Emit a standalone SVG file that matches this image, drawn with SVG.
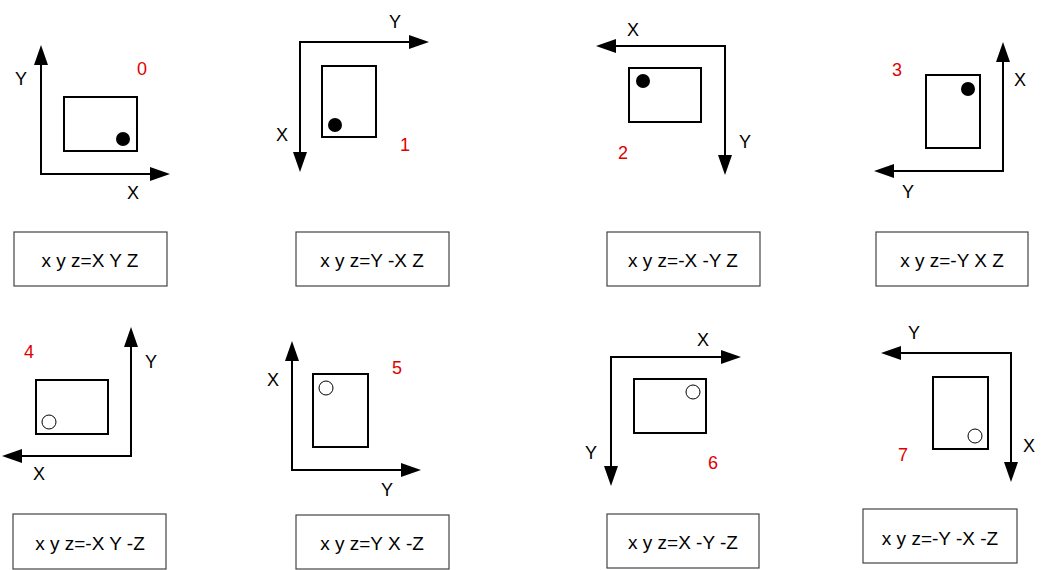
<svg xmlns="http://www.w3.org/2000/svg" width="1047" height="570" viewBox="0 0 1047 570">
<style>
  .ax { fill: none; stroke: #000; stroke-width: 2; marker-end: url(#arr); }
  .card { fill: #fff; stroke: #000; stroke-width: 2; }
  .dot { fill: #000; }
  .ring { fill: none; stroke: #000; stroke-width: 1; }
  .lbl { font-family: "Liberation Sans", Arial, sans-serif; font-size: 18px; fill: #000; text-anchor: middle; }
  .num { font-family: "Liberation Sans", Arial, sans-serif; font-size: 18px; fill: #e00000; text-anchor: middle; }
  .box { fill: #fff; stroke: #444; stroke-width: 1.2; }
  .eq { font-family: "Liberation Sans", Arial, sans-serif; font-size: 19px; fill: #000; text-anchor: middle; }
</style>
<defs>
  <marker id="arr" markerUnits="userSpaceOnUse" markerWidth="20" markerHeight="14" refX="2" refY="7" orient="auto">
    <path d="M0,0 L20,7 L0,14 z" fill="#000"/>
  </marker>
</defs>
<rect width="1047" height="570" fill="#fff"/>

<g id="connectors">
  <path class="ax" d="M41,174 L41,63"/>
  <path class="ax" d="M40,174 L152,174"/>
  <path class="ax" d="M300,42 L411,42"/>
  <path class="ax" d="M300,41 L300,154"/>
  <path class="ax" d="M725,46 L614,46"/>
  <path class="ax" d="M725,45 L725,157"/>
  <path class="ax" d="M1003,171 L1003,60"/>
  <path class="ax" d="M1004,171 L892,171"/>
  <path class="ax" d="M131,456 L131,345"/>
  <path class="ax" d="M132,456 L20,456"/>
  <path class="ax" d="M292,470 L292,359"/>
  <path class="ax" d="M291,470 L403,470"/>
  <path class="ax" d="M611,357 L723,357"/>
  <path class="ax" d="M611,356 L611,468"/>
  <path class="ax" d="M1011,353 L899,353"/>
  <path class="ax" d="M1011,352 L1011,464"/>
</g>

<g id="panel0">
  <rect class="card" x="64" y="97" width="73" height="54"/>
  <circle class="dot" cx="123" cy="139" r="7"/>
  <text class="lbl" x="21" y="85">Y</text>
  <text class="lbl" x="133" y="199">X</text>
  <text class="num" x="142" y="75">0</text>
</g>
<g id="panel1">
  <rect class="card" x="322" y="66" width="54" height="71"/>
  <circle class="dot" cx="335" cy="125" r="7"/>
  <text class="lbl" x="395" y="28">Y</text>
  <text class="lbl" x="282" y="141">X</text>
  <text class="num" x="405" y="151">1</text>
</g>
<g id="panel2">
  <rect class="card" x="629" y="68" width="72" height="54"/>
  <circle class="dot" cx="643" cy="81" r="7"/>
  <text class="lbl" x="633" y="36">X</text>
  <text class="lbl" x="745" y="148">Y</text>
  <text class="num" x="623" y="159">2</text>
</g>
<g id="panel3">
  <rect class="card" x="926" y="75" width="54" height="73"/>
  <circle class="dot" cx="968" cy="89" r="7"/>
  <text class="lbl" x="1020" y="86">X</text>
  <text class="lbl" x="908" y="198">Y</text>
  <text class="num" x="897" y="76">3</text>
</g>
<g id="panel4">
  <rect class="card" x="36" y="380" width="72" height="54"/>
  <circle class="ring" cx="49" cy="422" r="7"/>
  <text class="lbl" x="151" y="368">Y</text>
  <text class="lbl" x="39" y="480">X</text>
  <text class="num" x="29" y="358">4</text>
</g>
<g id="panel5">
  <rect class="card" x="313" y="374" width="55" height="73"/>
  <circle class="ring" cx="326" cy="388" r="7"/>
  <text class="lbl" x="273" y="386">X</text>
  <text class="lbl" x="387" y="496">Y</text>
  <text class="num" x="397" y="374">5</text>
</g>
<g id="panel6">
  <rect class="card" x="634" y="379" width="72" height="54"/>
  <circle class="ring" cx="693" cy="392" r="7"/>
  <text class="lbl" x="703" y="346">X</text>
  <text class="lbl" x="591" y="459">Y</text>
  <text class="num" x="713" y="469">6</text>
</g>
<g id="panel7">
  <rect class="card" x="933" y="377" width="55" height="72"/>
  <circle class="ring" cx="975" cy="436" r="7"/>
  <text class="lbl" x="914" y="339">Y</text>
  <text class="lbl" x="1029" y="452">X</text>
  <text class="num" x="903" y="461">7</text>
</g>

<g id="eq0"><rect class="box" x="14" y="232" width="153" height="54"/><text class="eq" x="90" y="267">x y z=X Y Z</text></g>
<g id="eq1"><rect class="box" x="296" y="232" width="153" height="54"/><text class="eq" x="372" y="267">x y z=Y -X Z</text></g>
<g id="eq2"><rect class="box" x="607" y="232" width="153" height="54"/><text class="eq" x="683" y="267">x y z=-X -Y Z</text></g>
<g id="eq3"><rect class="box" x="876" y="232" width="152" height="54"/><text class="eq" x="952" y="267">x y z=-Y X Z</text></g>
<g id="eq4"><rect class="box" x="13" y="514" width="153" height="55"/><text class="eq" x="90" y="550">x y z=-X Y -Z</text></g>
<g id="eq5"><rect class="box" x="296" y="515" width="153" height="54"/><text class="eq" x="372" y="550">x y z=Y X -Z</text></g>
<g id="eq6"><rect class="box" x="607" y="514" width="152" height="54"/><text class="eq" x="683" y="549">x y z=X -Y -Z</text></g>
<g id="eq7"><rect class="box" x="863" y="509" width="154" height="54"/><text class="eq" x="940" y="545">x y z=-Y -X -Z</text></g>
</svg>
